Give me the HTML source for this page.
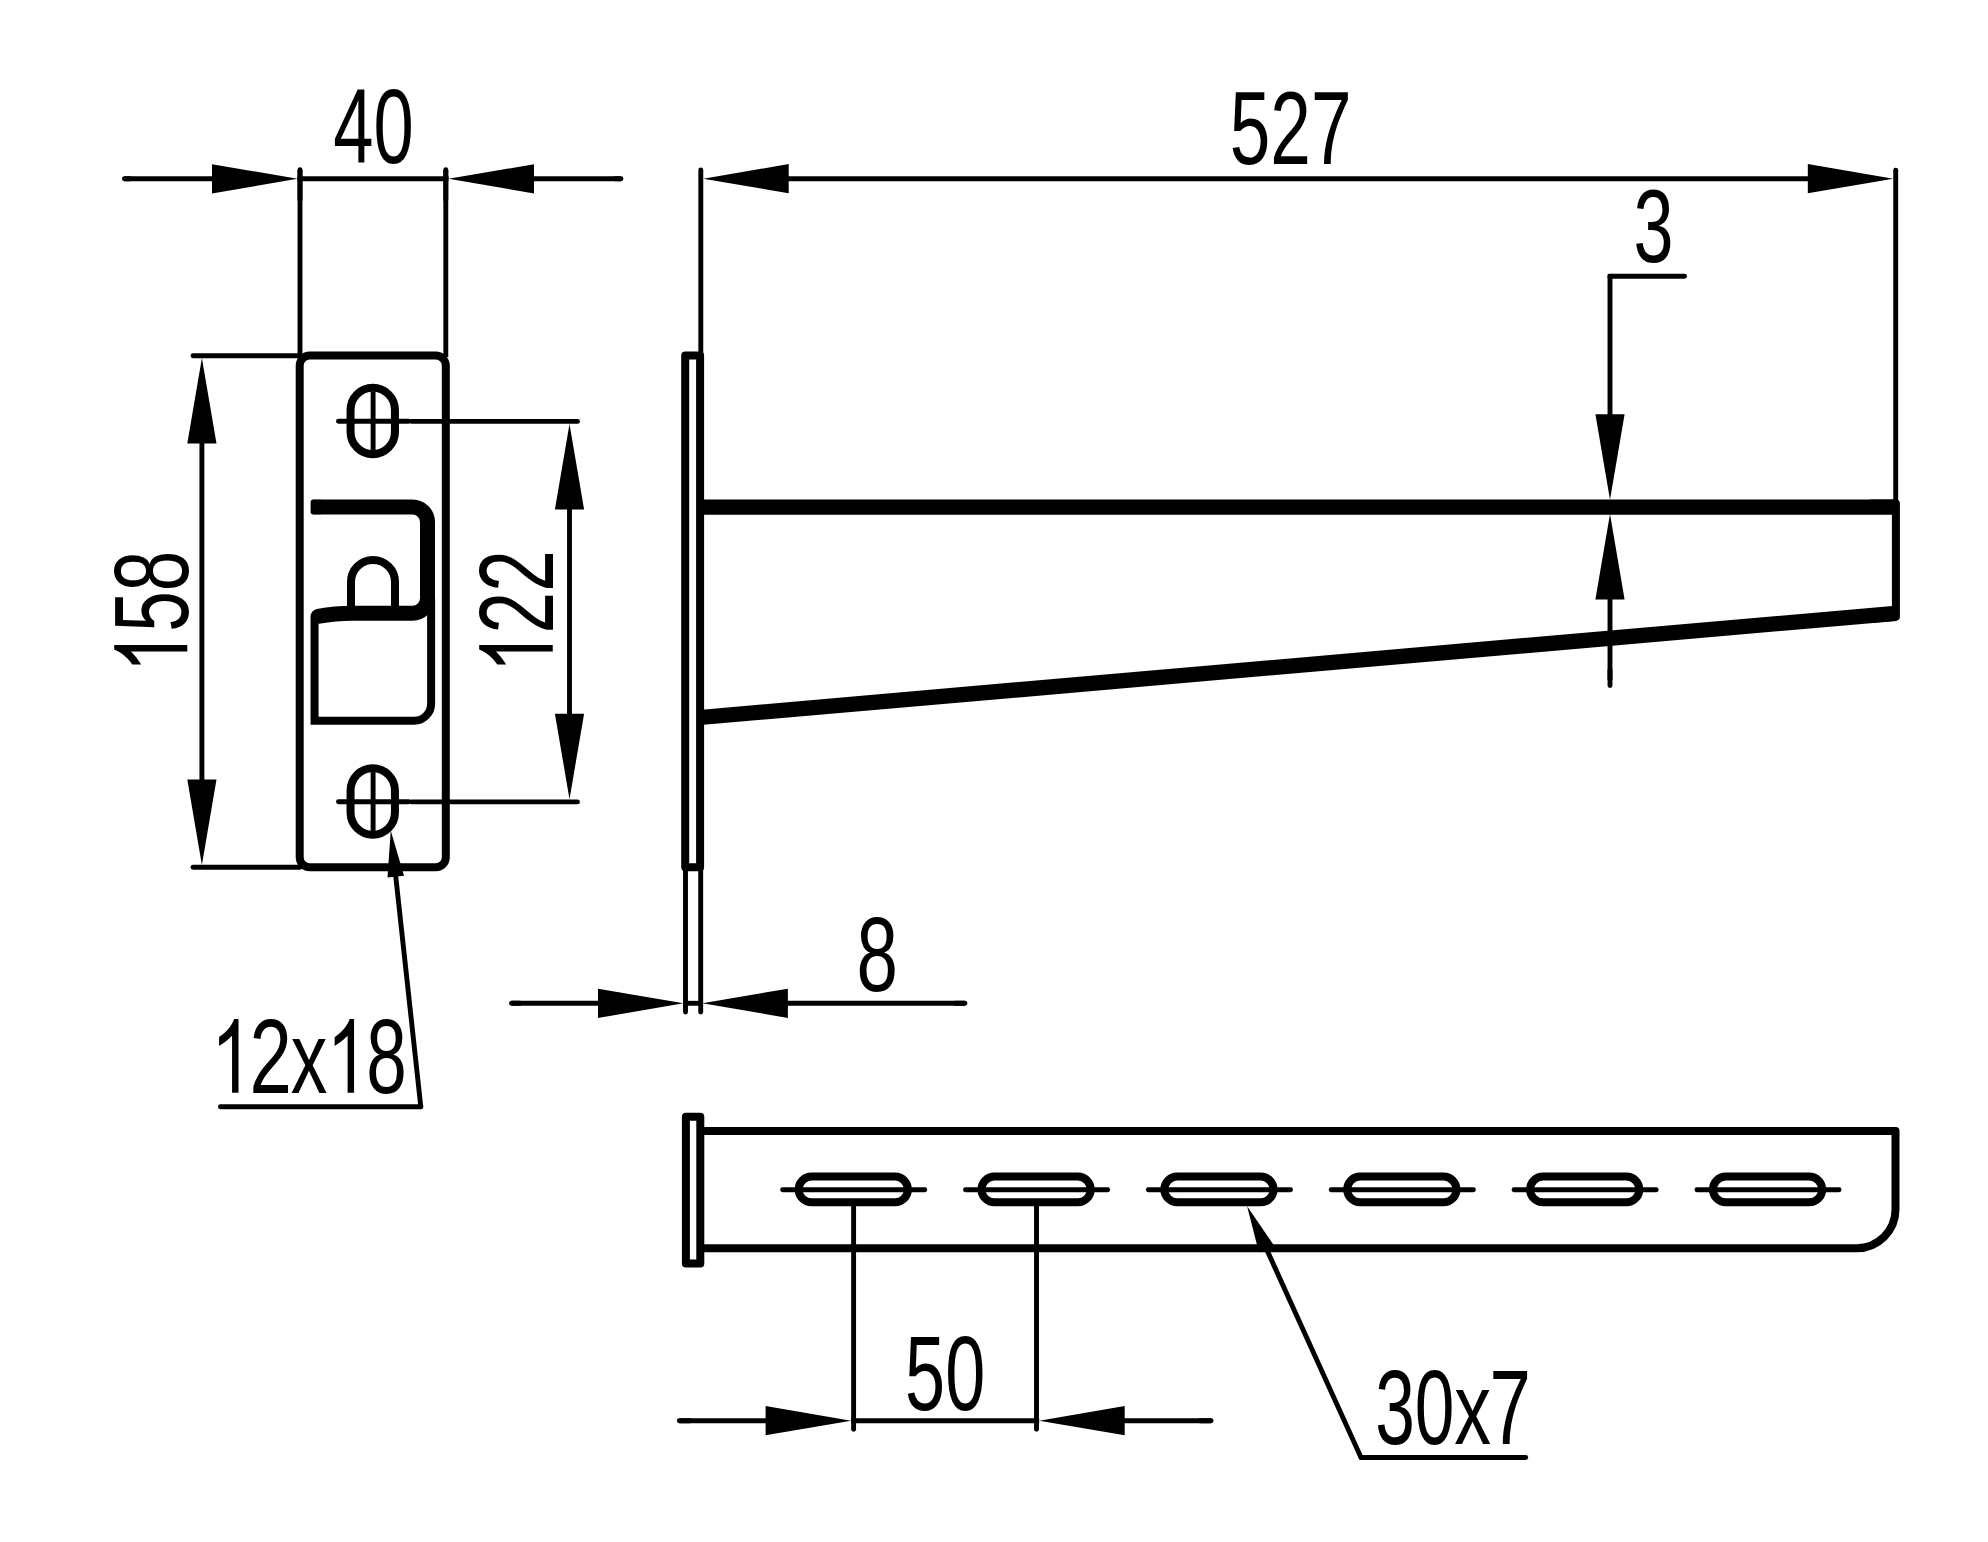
<!DOCTYPE html>
<html><head><meta charset="utf-8"><style>
html,body{margin:0;padding:0;background:#fff;width:1988px;height:1542px;overflow:hidden}
svg{display:block}
text{font-family:"Liberation Sans",sans-serif;fill:#000;stroke:none}
</style></head><body>
<svg width="1988" height="1542" viewBox="0 0 1988 1542">
<rect x="0" y="0" width="1988" height="1542" fill="#fff"/>
<g stroke="#000" fill="none">
<line x1="124.40" y1="178.80" x2="213.00" y2="178.80" stroke-width="4.9" stroke-linecap="butt"/>
<line x1="124.40" y1="178.80" x2="130.00" y2="178.80" stroke-width="4.9" stroke-linecap="round"/>
<line x1="297.50" y1="178.80" x2="448.50" y2="178.80" stroke-width="4.9" stroke-linecap="butt"/>
<line x1="533.00" y1="178.80" x2="621.00" y2="178.80" stroke-width="4.9" stroke-linecap="butt"/>
<line x1="615.00" y1="178.80" x2="621.00" y2="178.80" stroke-width="4.9" stroke-linecap="round"/>
<polygon points="297.50,178.80 212.00,164.20 212.00,193.40" fill="#000" stroke="none"/>
<polygon points="448.50,178.80 534.00,193.40 534.00,164.20" fill="#000" stroke="none"/>
<line x1="300.00" y1="169.80" x2="300.00" y2="357.00" stroke-width="4.9" stroke-linecap="butt"/>
<line x1="300.00" y1="169.80" x2="300.00" y2="200.00" stroke-width="4.9" stroke-linecap="round"/>
<line x1="445.80" y1="169.80" x2="445.80" y2="357.00" stroke-width="4.9" stroke-linecap="butt"/>
<line x1="445.80" y1="169.80" x2="445.80" y2="200.00" stroke-width="4.9" stroke-linecap="round"/>
<text transform="matrix(0.07238 0 0 0.10565 333.14 162.74)" font-size="1000">40</text>
<rect x="299.7" y="355.6" width="146.10" height="511.70" rx="10" ry="10" stroke-width="8.0" fill="none"/>
<path d="M350.55,409.95 A22.20,22.20 0 0 1 394.95,409.95 V431.95 A22.20,22.20 0 0 1 350.55,431.95 Z" stroke-width="8.0" stroke-linecap="round" stroke-linejoin="round"/>
<path d="M350.55,790.45 A22.20,22.20 0 0 1 394.95,790.45 V812.55 A22.20,22.20 0 0 1 350.55,812.55 Z" stroke-width="8.0" stroke-linecap="round" stroke-linejoin="round"/>
<line x1="338.50" y1="421.30" x2="408.70" y2="421.30" stroke-width="4.9" stroke-linecap="round"/>
<line x1="411.60" y1="421.40" x2="577.50" y2="421.40" stroke-width="4.9" stroke-linecap="round"/>
<line x1="338.50" y1="801.80" x2="408.70" y2="801.80" stroke-width="4.9" stroke-linecap="round"/>
<line x1="411.60" y1="801.90" x2="577.50" y2="801.90" stroke-width="4.9" stroke-linecap="round"/>
<line x1="373.10" y1="391.60" x2="373.10" y2="450.30" stroke-width="4.9" stroke-linecap="butt"/>
<line x1="373.10" y1="772.10" x2="373.10" y2="830.90" stroke-width="4.9" stroke-linecap="butt"/>
<path d="M312.6,507 H412.5 A15,15 0 0 1 427.5,522 V598 A15,15 0 0 1 412.5,613.25 H352 Q336,613.4 317.8,616.3" stroke-width="15.0" stroke-linecap="butt" stroke-linejoin="miter"/>
<rect x="310.6" y="499.7" width="12" height="14.6" rx="2" fill="#000" stroke="none"/>
<circle cx="317.9" cy="616.3" r="7.3" fill="#000" stroke="none"/>
<path d="M314.55,617 V720.75 H414 A17.1,17.1 0 0 0 431.1,703.65 V598" stroke-width="8.0" stroke-linecap="butt" stroke-linejoin="miter"/>
<path d="M351,606 V582 A22,22 0 0 1 395,582 V606" stroke-width="8.0" stroke-linecap="butt" stroke-linejoin="round"/>
<line x1="193.00" y1="355.70" x2="300.00" y2="355.70" stroke-width="4.9" stroke-linecap="round"/>
<line x1="193.00" y1="867.30" x2="300.00" y2="867.30" stroke-width="4.9" stroke-linecap="round"/>
<line x1="201.90" y1="442.50" x2="201.90" y2="780.80" stroke-width="4.9" stroke-linecap="butt"/>
<polygon points="201.90,357.90 187.30,443.40 216.50,443.40" fill="#000" stroke="none"/>
<polygon points="201.90,865.00 216.50,779.50 187.30,779.50" fill="#000" stroke="none"/>
<text transform="matrix(0 -0.07279 0.10508 0 187.55 631.81)" font-size="1000">58</text>
<path transform="matrix(0 -1 1 0 114.20 645.10)" d="M0,0 V73.10 H-6.45 V16.7 C-9,19.5 -14.5,24 -19.4,26.9 V18.1 C-11.5,13 -6.5,6 -4.3,0 Z" fill="#000" stroke="none"/>
<line x1="569.50" y1="508.00" x2="569.50" y2="714.40" stroke-width="4.9" stroke-linecap="butt"/>
<polygon points="569.50,424.00 554.90,509.50 584.10,509.50" fill="#000" stroke="none"/>
<polygon points="569.50,799.20 584.10,713.70 554.90,713.70" fill="#000" stroke="none"/>
<text transform="matrix(0 -0.07485 0.10537 0 552.75 633.49)" font-size="1000">22</text>
<path transform="matrix(0 -1 1 0 479.20 645.10)" d="M0,0 V73.55 H-6.45 V16.7 C-9,19.5 -14.5,24 -19.4,26.9 V18.1 C-11.5,13 -6.5,6 -4.3,0 Z" fill="#000" stroke="none"/>
<polygon points="390.75,830.60 387.51,877.53 404.01,875.73" fill="#000" stroke="none"/>
<line x1="395.62" y1="875.34" x2="420.80" y2="1106.80" stroke-width="4.9" stroke-linecap="round"/>
<line x1="420.80" y1="1106.80" x2="220.40" y2="1106.80" stroke-width="4.9" stroke-linecap="round"/>
<path transform="translate(238.50 1019.00)" d="M0,0 V73.70 H-6.45 V16.7 C-9,19.5 -14.5,24 -19.4,26.9 V18.1 C-11.5,13 -6.5,6 -4.3,0 Z" fill="#000" stroke="none"/>
<text transform="matrix(0.07610 0 0 0.10595 249.40 1092.70)" font-size="1000">2</text>
<text transform="matrix(0.07317 0 0 0.10133 290.72 1092.70)" font-size="1000">x</text>
<path transform="translate(354.05 1019.10)" d="M0,0 V73.60 H-6.45 V16.7 C-9,19.5 -14.5,24 -19.4,26.9 V18.1 C-11.5,13 -6.5,6 -4.3,0 Z" fill="#000" stroke="none"/>
<text transform="matrix(0.07287 0 0 0.10523 366.17 1092.55)" font-size="1000">8</text>
<rect x="685.2" y="355.4" width="14.90" height="511.95" stroke-width="8.0" stroke-linejoin="round" fill="none"/>
<line x1="700.80" y1="170.00" x2="700.80" y2="356.00" stroke-width="4.9" stroke-linecap="round"/>
<line x1="685.50" y1="867.00" x2="685.50" y2="1012.00" stroke-width="4.9" stroke-linecap="round"/>
<line x1="700.70" y1="867.00" x2="700.70" y2="1012.00" stroke-width="4.9" stroke-linecap="round"/>
<line x1="700.00" y1="507.15" x2="1895.90" y2="507.15" stroke-width="15.3" stroke-linecap="butt"/>
<path d="M1870,503.4 H1895.9 V616.8 L1870,619.05" stroke-width="8.0" stroke-linecap="butt" stroke-linejoin="round"/>
<line x1="700.00" y1="717.50" x2="1895.90" y2="613.30" stroke-width="15.3" stroke-linecap="butt"/>
<line x1="1895.70" y1="170.30" x2="1895.70" y2="500.00" stroke-width="4.9" stroke-linecap="round"/>
<line x1="787.50" y1="178.70" x2="1808.70" y2="178.70" stroke-width="4.9" stroke-linecap="butt"/>
<polygon points="703.20,178.70 788.70,193.30 788.70,164.10" fill="#000" stroke="none"/>
<polygon points="1893.30,178.70 1807.80,164.10 1807.80,193.30" fill="#000" stroke="none"/>
<text transform="matrix(0.07294 0 0 0.10353 1229.78 164.26)" font-size="1000">527</text>
<line x1="1610.00" y1="276.20" x2="1610.00" y2="416.40" stroke-width="4.9" stroke-linecap="butt"/>
<line x1="1610.00" y1="597.30" x2="1610.00" y2="680.00" stroke-width="4.9" stroke-linecap="butt"/>
<line x1="1610.00" y1="670.00" x2="1610.00" y2="685.50" stroke-width="4.9" stroke-linecap="round"/>
<line x1="1610.00" y1="276.20" x2="1684.50" y2="276.20" stroke-width="4.9" stroke-linecap="round"/>
<rect x="1607.7" y="273.9" width="4.6" height="4.6" fill="#000" stroke="none"/>
<polygon points="1610.00,499.70 1624.60,414.20 1595.40,414.20" fill="#000" stroke="none"/>
<polygon points="1610.00,514.00 1595.40,599.50 1624.60,599.50" fill="#000" stroke="none"/>
<text transform="matrix(0.07194 0 0 0.10410 1633.52 262.06)" font-size="1000">3</text>
<line x1="511.50" y1="1003.30" x2="599.30" y2="1003.30" stroke-width="4.9" stroke-linecap="butt"/>
<line x1="511.50" y1="1003.30" x2="520.00" y2="1003.30" stroke-width="4.9" stroke-linecap="round"/>
<line x1="683.50" y1="1003.30" x2="702.80" y2="1003.30" stroke-width="4.9" stroke-linecap="butt"/>
<line x1="787.50" y1="1003.30" x2="964.90" y2="1003.30" stroke-width="4.9" stroke-linecap="butt"/>
<line x1="955.00" y1="1003.30" x2="964.90" y2="1003.30" stroke-width="4.9" stroke-linecap="round"/>
<polygon points="683.50,1003.30 598.00,988.70 598.00,1017.90" fill="#000" stroke="none"/>
<polygon points="702.40,1003.30 787.90,1017.90 787.90,988.70" fill="#000" stroke="none"/>
<text transform="matrix(0.07447 0 0 0.10565 856.50 990.64)" font-size="1000">8</text>
<rect x="685.9" y="1116.8" width="14.40" height="146.70" stroke-width="8.0" stroke-linejoin="round" fill="none"/>
<path d="M700.3,1130.9 H1895.5 V1209.3 A39,39 0 0 1 1856.5,1248.3 H700.3" stroke-width="8.0" stroke-linecap="butt" stroke-linejoin="round"/>
<path d="M811.50,1176.60 H895.00 A12.85,12.85 0 0 1 895.00,1202.30 H811.50 A12.85,12.85 0 0 1 811.50,1176.60 Z" stroke-width="8.0" stroke-linecap="round" stroke-linejoin="round"/>
<line x1="782.60" y1="1189.80" x2="924.80" y2="1189.80" stroke-width="4.9" stroke-linecap="round"/>
<path d="M994.36,1176.60 H1077.86 A12.85,12.85 0 0 1 1077.86,1202.30 H994.36 A12.85,12.85 0 0 1 994.36,1176.60 Z" stroke-width="8.0" stroke-linecap="round" stroke-linejoin="round"/>
<line x1="965.46" y1="1189.80" x2="1107.66" y2="1189.80" stroke-width="4.9" stroke-linecap="round"/>
<path d="M1177.22,1176.60 H1260.72 A12.85,12.85 0 0 1 1260.72,1202.30 H1177.22 A12.85,12.85 0 0 1 1177.22,1176.60 Z" stroke-width="8.0" stroke-linecap="round" stroke-linejoin="round"/>
<line x1="1148.32" y1="1189.80" x2="1290.52" y2="1189.80" stroke-width="4.9" stroke-linecap="round"/>
<path d="M1360.08,1176.60 H1443.58 A12.85,12.85 0 0 1 1443.58,1202.30 H1360.08 A12.85,12.85 0 0 1 1360.08,1176.60 Z" stroke-width="8.0" stroke-linecap="round" stroke-linejoin="round"/>
<line x1="1331.18" y1="1189.80" x2="1473.38" y2="1189.80" stroke-width="4.9" stroke-linecap="round"/>
<path d="M1542.94,1176.60 H1626.44 A12.85,12.85 0 0 1 1626.44,1202.30 H1542.94 A12.85,12.85 0 0 1 1542.94,1176.60 Z" stroke-width="8.0" stroke-linecap="round" stroke-linejoin="round"/>
<line x1="1514.04" y1="1189.80" x2="1656.24" y2="1189.80" stroke-width="4.9" stroke-linecap="round"/>
<path d="M1725.80,1176.60 H1809.30 A12.85,12.85 0 0 1 1809.30,1202.30 H1725.80 A12.85,12.85 0 0 1 1725.80,1176.60 Z" stroke-width="8.0" stroke-linecap="round" stroke-linejoin="round"/>
<line x1="1696.90" y1="1189.80" x2="1839.10" y2="1189.80" stroke-width="4.9" stroke-linecap="round"/>
<line x1="679.30" y1="1420.70" x2="767.50" y2="1420.70" stroke-width="4.9" stroke-linecap="butt"/>
<line x1="679.30" y1="1420.70" x2="690.00" y2="1420.70" stroke-width="4.9" stroke-linecap="round"/>
<line x1="851.10" y1="1420.70" x2="1039.20" y2="1420.70" stroke-width="4.9" stroke-linecap="butt"/>
<line x1="1123.70" y1="1420.70" x2="1211.10" y2="1420.70" stroke-width="4.9" stroke-linecap="butt"/>
<line x1="1200.00" y1="1420.70" x2="1211.10" y2="1420.70" stroke-width="4.9" stroke-linecap="round"/>
<line x1="853.60" y1="1206.00" x2="853.60" y2="1429.20" stroke-width="4.9" stroke-linecap="round"/>
<line x1="1036.50" y1="1206.00" x2="1036.50" y2="1429.20" stroke-width="4.9" stroke-linecap="round"/>
<polygon points="851.10,1420.70 765.60,1406.10 765.60,1435.30" fill="#000" stroke="none"/>
<polygon points="1039.20,1420.70 1124.70,1435.30 1124.70,1406.10" fill="#000" stroke="none"/>
<text transform="matrix(0.07202 0 0 0.10593 905.12 1410.04)" font-size="1000">50</text>
<polygon points="1247.10,1206.20 1258.94,1252.43 1274.06,1245.58" fill="#000" stroke="none"/>
<line x1="1265.88" y1="1247.64" x2="1361.00" y2="1457.50" stroke-width="4.9" stroke-linecap="round"/>
<line x1="1361.00" y1="1457.50" x2="1525.70" y2="1457.50" stroke-width="4.9" stroke-linecap="round"/>
<text transform="matrix(0.07130 0 0 0.10579 1375.19 1443.64)" font-size="1000">30</text>
<text transform="matrix(0.07358 0 0 0.10114 1454.22 1443.80)" font-size="1000">x</text>
<text transform="matrix(0.07429 0 0 0.10589 1489.41 1443.80)" font-size="1000">7</text>
</g>
</svg>
</body></html>
